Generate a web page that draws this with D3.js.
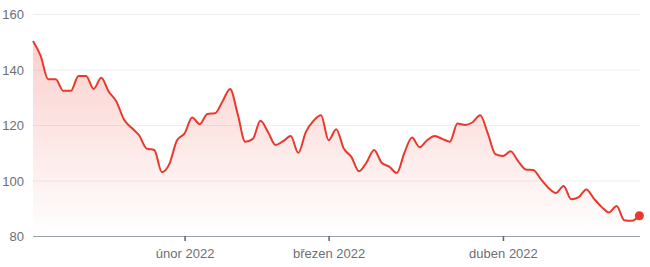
<!DOCTYPE html>
<html>
<head>
<meta charset="utf-8">
<script src="https://cdn.jsdelivr.net/npm/d3@7"></script>
<style>
  html, body { margin: 0; padding: 0; background: #fff; }
  svg { display: block; font-family: Roboto, "Noto Sans", sans-serif; }
</style>
</head>
<body>
<svg id="chart" width="650" height="267"></svg>
<script>
// Daily values (trading days, 3 Jan 2022 – 28 Apr 2022)
const values = [
  150.3, 145, 136.5, 136.5, 132.3, 132.3, 137.7, 137.7, 133, 137,
  132, 128.5, 122, 119, 116.3, 111.5, 111, 103, 106, 114.5,
  117, 122.7, 120.3, 124, 124.2, 128.5, 133, 124, 114, 115,
  121.5, 117.5, 112.8, 114.2, 116, 110, 117.5, 121.5, 123.5, 114.5,
  118.5, 111.5, 108.5, 103.3, 106.5, 111, 106.4, 105, 102.7, 110,
  115.5, 112, 114.5, 116, 115, 114, 120.5, 120, 121, 123.5,
  117, 109.5, 108.8, 110.5, 107, 104, 103.8, 100.5, 97.3, 95.5,
  98, 93.2, 94, 96.8, 93.5, 90.5, 88.5, 90.8, 85.7, 85.5,
  87.3
];
// index of first trading day of each month shown on the axis
const xTickIndex = [20, 39, 62];
const xTickLabels = ["únor 2022", "březen 2022", "duben 2022"];
const yTicks = [80, 100, 120, 140, 160];

const svg = d3.select("#chart");
const mLeft = 33, mRight = 639.4, mTop = 14, mBottom = 236;

const x = d3.scaleLinear().domain([0, values.length - 1]).range([mLeft, mRight]);
const y = d3.scaleLinear().domain([80, 160]).range([mBottom, mTop]);

const red = "#e8392d";
const textColor = "#6b6f74";

// gradient
const defs = svg.append("defs");
const grad = defs.append("linearGradient")
  .attr("id", "areaGrad")
  .attr("gradientUnits", "userSpaceOnUse")
  .attr("x1", 0).attr("x2", 0)
  .attr("y1", y(d3.max(values))).attr("y2", mBottom);
grad.append("stop").attr("offset", 0).attr("stop-color", red).attr("stop-opacity", 0.24);
grad.append("stop").attr("offset", 1).attr("stop-color", red).attr("stop-opacity", 0.0);

// gridlines + y labels
const yAxis = d3.axisLeft(y).tickValues(yTicks).tickSize(-(640 - mLeft)).tickPadding(9).tickFormat(d3.format("d"));
const gy = svg.append("g").attr("transform", `translate(${mLeft},0)`).call(yAxis);
gy.select(".domain").remove();
gy.selectAll(".tick line").attr("stroke", "#eeeeee").attr("stroke-width", 1);
gy.selectAll(".tick text").attr("fill", textColor).style("font-size", "13px").attr("dy", "0.35em");

// area and line
const idx = d3.range(values.length);
const area = d3.area()
  .x(i => x(i)).y0(mBottom).y1(i => y(values[i]))
  .curve(d3.curveMonotoneX);
const line = d3.line()
  .x(i => x(i)).y(i => y(values[i]))
  .curve(d3.curveMonotoneX);

svg.append("path").datum(idx).attr("d", area).attr("fill", "url(#areaGrad)");

// x axis
const xAxis = d3.axisBottom(x).tickValues(xTickIndex)
  .tickFormat((d, i) => xTickLabels[i]).tickSize(5).tickPadding(8);
const gx = svg.append("g").attr("transform", `translate(0,${mBottom})`).call(xAxis);
gx.select(".domain").attr("d", `M${mLeft},0.5H640`).attr("stroke", "#9aa0a6").attr("stroke-width", 1.2);
gx.selectAll(".tick line").attr("stroke", "#5f6368").attr("stroke-width", 1.5);
gx.selectAll(".tick text").attr("fill", textColor).style("font-size", "13px");

svg.append("path").datum(idx).attr("d", line)
  .attr("fill", "none").attr("stroke", red).attr("stroke-width", 2)
  .attr("stroke-linejoin", "round");

// end dot
const last = values.length - 1;
svg.append("circle").attr("cx", x(last)).attr("cy", y(values[last]))
  .attr("r", 4.5).attr("fill", red);
</script>
</body>
</html>
